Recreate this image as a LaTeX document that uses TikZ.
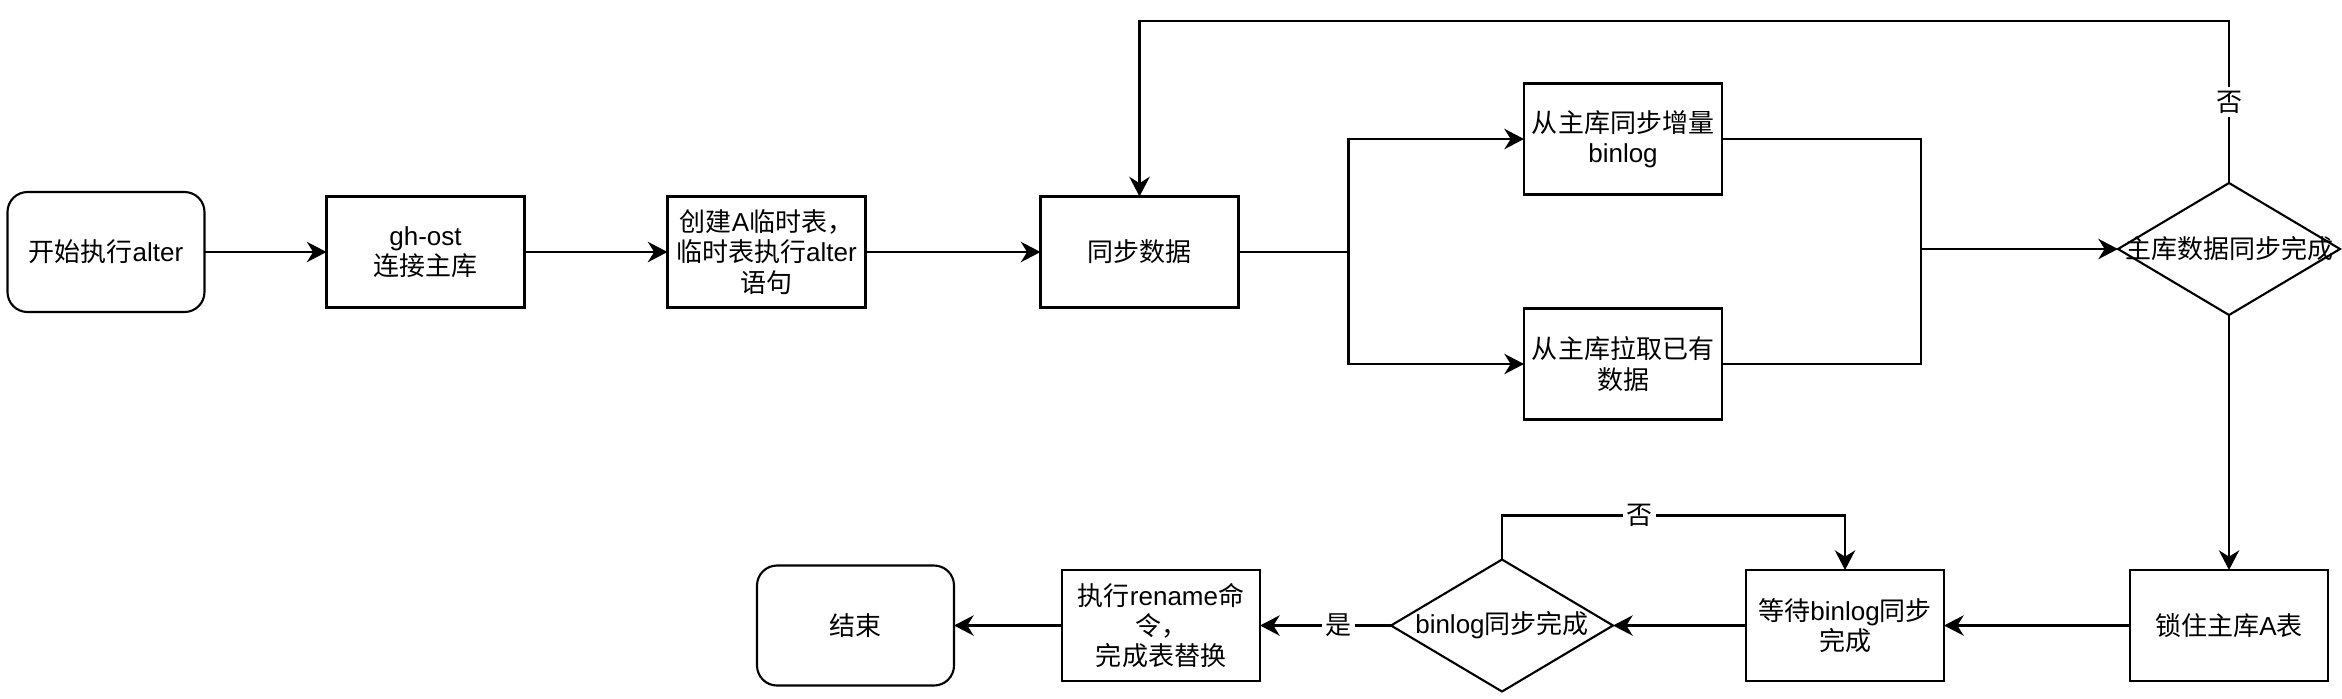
\documentclass[tikz,border=0pt]{standalone}
\usepackage{fontspec}
\setmainfont{Noto Sans CJK SC}
\newfontfamily\latinfont{Liberation Sans}
\newcommand{\en}[1]{{\latinfont #1}}
\usetikzlibrary{positioning, shapes.geometric, arrows.meta}

\begin{document}
\begin{tikzpicture}[->,>={Stealth[length=5.6pt,width=5.8pt,inset=1.8pt]},
        line width=0.6pt, font=\fontsize{7.4}{8.6}\selectfont,
        step node/.style={rectangle,draw,outer sep=0pt,minimum width=1.98cm,minimum height=1.11cm,align=center,inner sep=1pt},
        end node/.style={rectangle,draw,outer sep=0pt,rounded corners=0.2cm,minimum width=1.97cm,minimum height=1.2cm,align=center},
        check node/.style={diamond,draw,outer sep=0pt,minimum width=2.22cm,minimum height=1.32cm,inner sep=0pt},
        label node/.style={fill=white,inner sep=1pt}]

    \useasboundingbox (0,0) rectangle (23.42,-6.98);

    % Nodes
    \node[end node] (start) at (1.06,-2.52) {开始执行\en{alter}};
    \node[step node] (ghost) [right=1.22cm of start] {\en{gh-ost}\\连接主库};
    \node[step node] (create) [right=1.43cm of ghost] {创建\en{A}临时表，\\临时表执行\en{alter}\\语句};
    \node[step node] (sync) [right=1.75cm of create] {同步数据};
    \node[step node] (incr) at (16.23,-1.39) {从主库同步增量\\\en{binlog}};
    \node[step node] (full) [below=1.14cm of incr] {从主库拉取已有\\数据};
    \node[check node] (check) at (22.29,-2.49) {\makebox[0pt]{主库数据同步完成}};
    \node[step node] (lock) [below=2.55cm of check] {锁住主库\en{A}表};
    \node[step node] (wait) [left=1.86cm of lock] {等待\en{binlog}同步\\完成};
    \node[check node] (bin) [left=1.33cm of wait] {\makebox[0pt]{\en{binlog}同步完成}};
    \node[step node] (rename) [left=1.31cm of bin] {执行\en{rename}命\\令，\\完成表替换};
    \node[end node] (finish) [left=1.08cm of rename] {结束};

    \coordinate[right=1.1cm of sync] (split);
    \coordinate[left=1.97cm of check] (join);

    % Edges
    \draw (start) -- (ghost);
    \draw (ghost) -- (create);
    \draw (create) -- (sync);
    \draw[-] (sync) -- (split);
    \draw (split) |- (incr);
    \draw (split) |- (full);
    \draw[-] (incr) -| (join);
    \draw[-] (full) -| (join);
    \draw (join) -- (check);
    \draw (check.north) -- node[label node]{否} ++(0,1.62) -| (sync);
    \draw (check) -- (lock);
    \draw (lock) -- (wait);
    \draw (wait) -- (bin);
    \draw (bin) -- node[label node,pos=0.4]{是} (rename);
    \draw (rename) -- (finish);
    \draw (bin.north) -- ++(0,0.44) -| node[label node,pos=0.2]{否} (wait);

\end{tikzpicture}
\end{document}
